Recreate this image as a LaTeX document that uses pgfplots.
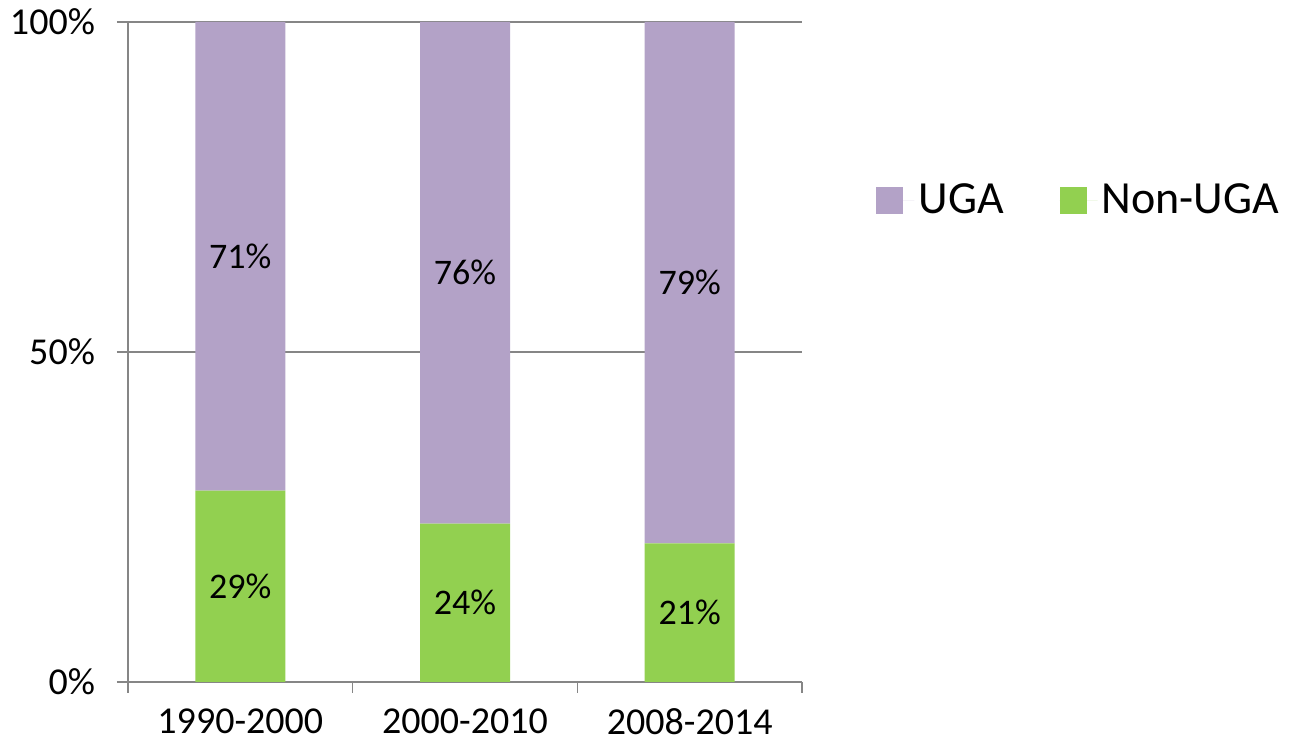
\documentclass[border=0pt]{standalone}
\usepackage{fontspec}
\setmainfont{Carlito}
\usepackage{pgfplots}
\pgfplotsset{compat=1.18}
\definecolor{uga}{HTML}{B3A2C7}
\definecolor{nonuga}{HTML}{92D050}
\definecolor{gridc}{HTML}{868686}
\newcommand{\bigf}{\fontsize{18pt}{21pt}\selectfont}
\newcommand{\tickf}{\fontsize{19pt}{22pt}\selectfont}
\newcommand{\legf}{\fontsize{23pt}{26pt}\selectfont}
\begin{document}
\begin{tikzpicture}
\useasboundingbox (0,0) rectangle (644.5pt,373.5pt);
\pgfplotsset{
  common/.style={
    at={(64pt,32.5pt)}, anchor=south west,
    scale only axis, width=337pt, height=330pt,
    xmin=0, xmax=3, ymin=0, ymax=100,
  }
}
\begin{axis}[common,
  ybar stacked, bar width=45pt,
  axis lines*=left,
  axis line style={gridc, line width=0.8pt},
  tick align=outside,
  major tick length=5.5pt,
  tick style={gridc, line width=0.8pt},
  ytick={0,50,100}, yticklabels={0\%,50\%,100\%},
  yticklabel style={font=\tickf, xshift=-7.5pt},
  xtick={0,1,2,3}, xticklabels={},
  extra x ticks={0.5,1.5,2.5},
  extra x tick labels={1990-2000,2000-2010,2008-2014},
  extra x tick style={major tick length=0pt, grid=none},
  xticklabel style={font=\tickf, yshift=-12pt, inner sep=1pt},
  ymajorgrids, grid style={gridc, line width=0.8pt},
  legend columns=2, reverse legend,
  legend style={draw=none, fill=none, font=\legf, at={(1.101,0.73)}, anchor=west,
    /tikz/every even column/.append style={column sep=26pt}},
  legend image code/.code={\fill[#1] (0pt,-6.75pt) rectangle (13.5pt,6.75pt); \path (0pt,0pt) -- (19pt,0pt);},
]
\addplot[fill=nonuga, draw=none] coordinates {(0.5,29) (1.5,24) (2.5,21)};
\addlegendentry{Non-UGA}
\addplot[fill=uga, draw=none] coordinates {(0.5,71) (1.5,76) (2.5,79)};
\addlegendentry{UGA}
\end{axis}
\begin{axis}[common, hide axis]
\addplot[draw=none, mark=none, nodes near coords, point meta=explicit symbolic,
  every node near coord/.append style={anchor=center, font=\bigf, text=black}]
  coordinates {(0.5,14.5) [29\%] (1.5,12) [24\%] (2.5,10.5) [21\%]
               (0.5,64.5) [71\%] (1.5,62) [76\%] (2.5,60.5) [79\%]};
\end{axis}
\end{tikzpicture}
\end{document}
